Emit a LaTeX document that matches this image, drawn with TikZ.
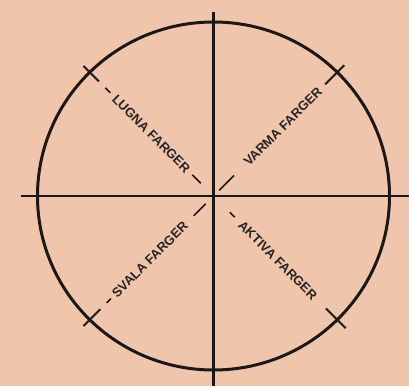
\documentclass[tikz,border=0pt]{standalone}
\usepackage{fontspec}
\setmainfont{Liberation Sans}
\definecolor{paper}{RGB}{239,198,171}
\definecolor{ink}{RGB}{28,24,24}
\definecolor{txtink}{RGB}{40,35,35}
\begin{document}
\begin{tikzpicture}[x=1pt,y=1pt,
  axis/.style={ink, line width=2.5pt},
  rim/.style={ink, line width=3pt},
  tickmark/.style={ink, line width=1.9pt},
  dashmark/.style={ink, line width=1.7pt},
  txt/.style={text=txtink, font=\fontsize{13}{13}\selectfont\bfseries, inner sep=0pt}]
\fill[paper] (-213.5,-190) rectangle (195.5,196);
\useasboundingbox (-213.5,-190) rectangle (195.5,196);
\coordinate (C) at (0,0);
\draw[rim] (C) ellipse [x radius=176, y radius=174];
\coordinate (W) at (-192.5,0);
\coordinate (E) at (195.5,0);
\coordinate (N) at (0,184);
\coordinate (S) at (0,-190);
\draw[axis] (W) -- (E);
\draw[axis] (N) -- (S);
% ticks across the circle
\foreach \a/\i/\o [count=\k] in {135/162/184, 45/158/185, 225/160/184, 315/159/187}{
  \coordinate (ti\k) at (\a:\i);
  \coordinate (to\k) at (\a:\o);
  \draw[tickmark] (ti\k) -- (to\k);
}
% labels
\node[txt, rotate=-45] (lugna) at (135:88) {LUGNA FARGER};
\node[txt, rotate=45] (varma) at (45:98) {VARMA FARGER};
\node[txt, rotate=45] (svala) at (225:90) {SVALA FARGER};
\node[txt, rotate=-45] (aktiva) at (315:91) {AKTIVA FARGER};
% dashes
\foreach \a/\i/\o [count=\k] in {135/146/153, 135/18/30, 45/8/29, 225/145/151, 225/11/28, 315/23/30}{
  \coordinate (di\k) at (\a:\i);
  \coordinate (do\k) at (\a:\o);
  \draw[dashmark] (di\k) -- (do\k);
}
\end{tikzpicture}
\end{document}
